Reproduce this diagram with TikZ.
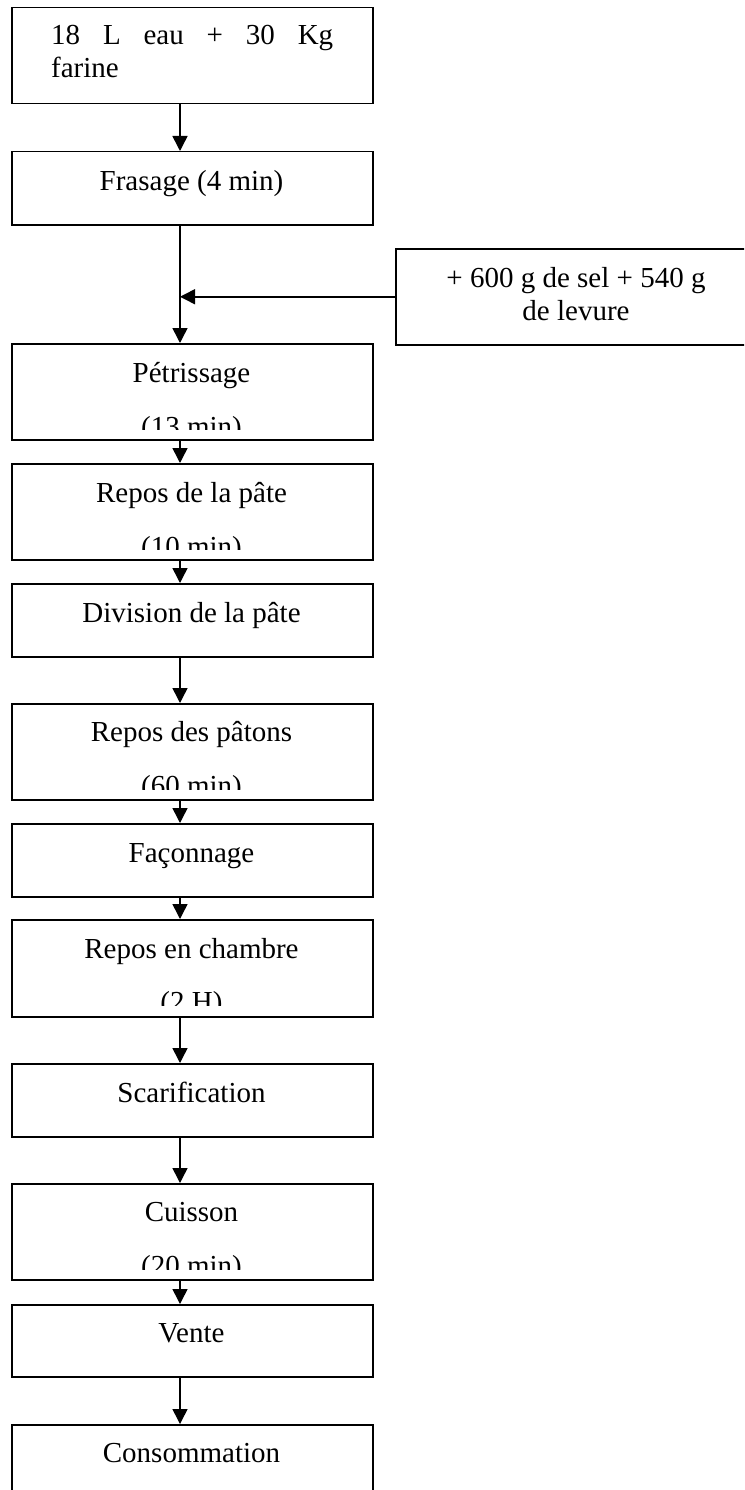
\documentclass[tikz,border=0pt]{standalone}
\usepackage{fontspec}
\setmainfont{Liberation Serif}
\usetikzlibrary{arrows.meta}
\begin{document}
\begin{tikzpicture}[x=1pt,y=-1pt,
  box/.style={draw, line width=1.5pt, inner sep=0pt, anchor=north west, minimum width=361pt},
  lbl/.style={inner sep=0pt, anchor=base, font=\fontsize{29}{33}\selectfont},
  arr/.style={line width=1.5pt, -{Triangle[length=15pt,width=15pt]}},
]
\useasboundingbox (0,0) rectangle (744,1490);
\clip (0,0) rectangle (744,1490);
\fill[white] (0,0) rectangle (744,1490);
\coordinate (ax) at (180,0);

% boxes
\node[box, minimum height=96pt] (b1) at (11,7) {};
\node[box, minimum height=73pt] (b2) at (11,151) {};
\node[box, minimum height=96pt] (side) at (395,248) {};
\node[box, minimum height=96pt] (b3) at (11,343) {};
\node[box, minimum height=96pt] (b4) at (11,463) {};
\node[box, minimum height=73pt] (b5) at (11,583) {};
\node[box, minimum height=96pt] (b6) at (11,703) {};
\node[box, minimum height=73pt] (b7) at (11,823) {};
\node[box, minimum height=97pt] (b8) at (11,919) {};
\node[box, minimum height=73pt] (b9) at (11,1063) {};
\node[box, minimum height=96pt] (b10) at (11,1183) {};
\node[box, minimum height=72pt] (b11) at (11,1304) {};
\node[box, minimum height=100pt] (b12) at (11,1424) {};

% texts
\node[lbl, anchor=base west] (t1a) at (51,45) {\hbox to 282pt{18\hfill L\hfill eau\hfill +\hfill 30\hfill Kg}};
\node[lbl, anchor=base west] (t1b) at (51,78) {farine};
\node[lbl] (t2) at (191.5,190) {Frasage (4 min)};
\node[lbl] (ts1) at (576,287) {+ 600 g de sel + 540 g};
\node[lbl] (ts2) at (576,320) {de levure};
\node[lbl] (t3) at (191.5,382) {Pétrissage};
\node[lbl] (t4) at (191.5,502) {Repos de la pâte};
\node[lbl] (t5) at (191.5,622) {Division de la pâte};
\node[lbl] (t6) at (191.5,741) {Repos des pâtons};
\node[lbl] (t7) at (191.5,862) {Façonnage};
\node[lbl] (t8) at (191.5,958) {Repos en chambre};
\node[lbl] (t9) at (191.5,1102) {Scarification};
\node[lbl] (t10) at (191.5,1221) {Cuisson};
\node[lbl] (t11) at (191.5,1342) {Vente};
\node[lbl] (t12) at (191.5,1462) {Consommation};

% clipped second lines
\begin{scope}\clip (11,343) rectangle (372,429);
\node[lbl] (t3b) at (191.5,436) {(13 min)};\end{scope}
\begin{scope}\clip (11,463) rectangle (372,549);
\node[lbl] (t4b) at (191.5,556) {(10 min)};\end{scope}
\begin{scope}\clip (11,703) rectangle (372,789);
\node[lbl] (t6b) at (191.5,795) {(60 min)};\end{scope}
\begin{scope}\clip (11,919) rectangle (372,1005);
\node[lbl] (t8b) at (191.5,1011) {(2 H)};\end{scope}
\begin{scope}\clip (11,1183) rectangle (372,1269);
\node[lbl] (t10b) at (191.5,1275) {(20 min)};\end{scope}

% connectors
\draw[arr] (b1.south -| ax) -- (b2.north -| ax);
\draw[arr] (b2.south -| ax) -- (b3.north -| ax);
\draw[arr] (side.west) -- (side.west -| ax);
\draw[arr] (b3.south -| ax) -- (b4.north -| ax);
\draw[arr] (b4.south -| ax) -- (b5.north -| ax);
\draw[arr] (b5.south -| ax) -- (b6.north -| ax);
\draw[arr] (b6.south -| ax) -- (b7.north -| ax);
\draw[arr] (b7.south -| ax) -- (b8.north -| ax);
\draw[arr] (b8.south -| ax) -- (b9.north -| ax);
\draw[arr] (b9.south -| ax) -- (b10.north -| ax);
\draw[arr] (b10.south -| ax) -- (b11.north -| ax);
\draw[arr] (b11.south -| ax) -- (b12.north -| ax);
\end{tikzpicture}
\end{document}
